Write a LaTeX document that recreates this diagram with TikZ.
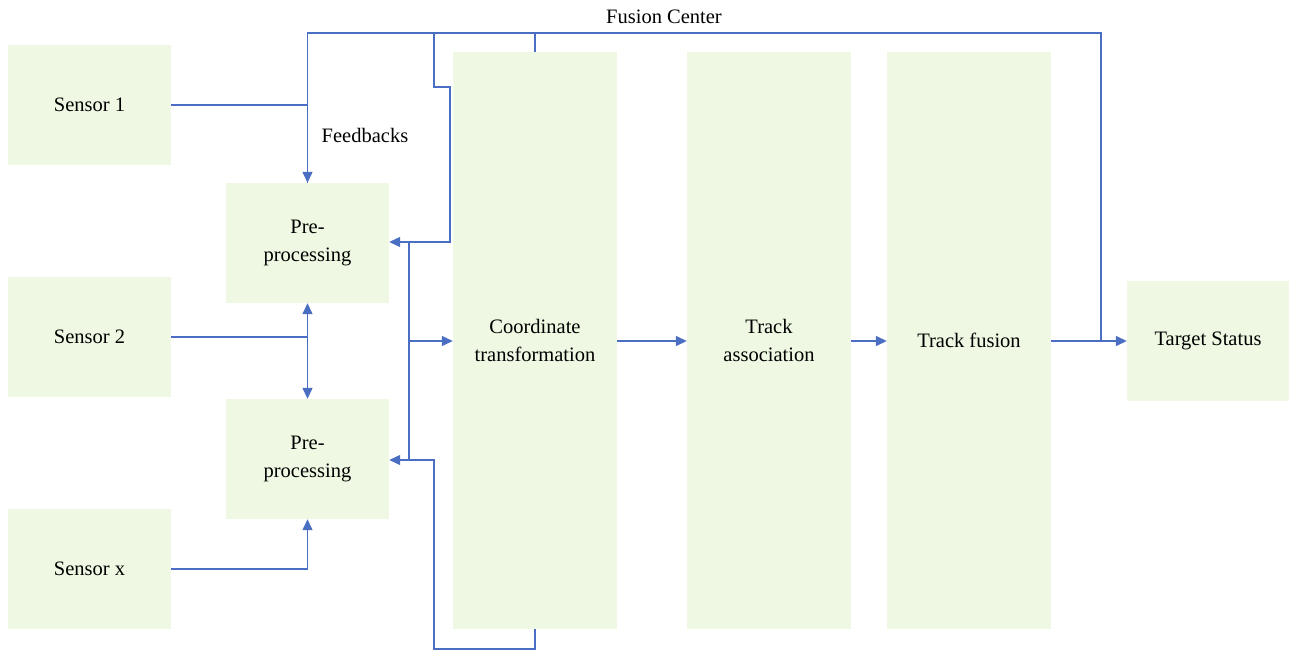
\documentclass[tikz,border=0pt]{standalone}
\usepackage{fontspec}
\setmainfont{Liberation Serif}
\usetikzlibrary{arrows.meta}
\definecolor{boxfill}{HTML}{EEF8E2}
\definecolor{linec}{HTML}{4A6FC2}
\tikzset{
  blk/.style={rectangle, fill=boxfill, draw=none, align=center, font=\fontsize{20.5}{27.5}\selectfont, inner sep=2pt},
  smallblk/.style={blk, minimum width=163pt, minimum height=120pt},
  tallblk/.style={blk, minimum width=164pt, minimum height=577pt},
  conn/.style={draw=linec, line width=1.3pt},
  arr/.style={conn, -{Triangle[length=11pt,width=10pt]}},
  lbl/.style={font=\fontsize{20.5}{27.5}\selectfont, inner sep=0pt}
}
\begin{document}
\begin{tikzpicture}[x=1pt,y=-1pt]
\useasboundingbox (0,0) rectangle (1289,652);
% blocks
\node[smallblk] (s1) at (89.5,105) {Sensor 1};
\node[smallblk] (s2) at (89.5,337) {Sensor 2};
\node[smallblk] (sx) at (89.5,569) {Sensor x};
\node[smallblk] (p1) at (307.5,243) {Pre-\\processing};
\node[smallblk] (p2) at (307.5,459) {Pre-\\processing};
\node[tallblk] (ct) at (535,340.5) {Coordinate\\transformation};
\node[tallblk] (ta) at (769,340.5) {Track\\association};
\node[tallblk] (tf) at (969,340.5) {Track fusion};
\node[blk, minimum width=162pt, minimum height=120pt] (ts) at (1208,341) {Target Status};
% labels
\node[lbl] (fc) at (664,17) {Fusion Center};
\node[lbl] (fbk) at (365,135) {Feedbacks};
% coordinates
\coordinate (fbR) at (1101,341);
\coordinate (topL) at (307.5,33);
\coordinate (topM) at (434,33);
\coordinate (j1) at (434,87);
\coordinate (j2) at (450,87);
\coordinate (j3) at (450,242);
\coordinate (b1) at (535,649);
\coordinate (b2) at (434,649);
\coordinate (b3) at (434,460);
\coordinate (busT) at (409,242);
\coordinate (busB) at (409,460);
\coordinate (busM) at (409,341);
\coordinate (s2j) at (307.5,337);
% connectors
\draw[arr] (s1.east) -| (p1.north);
\draw[conn] (fbR) |- (topL) -- (p1.north);
\draw[conn] (ct.north) -- (ct.north |- topL);
\draw[arr] (topM) -- (j1) -- (j2) -- (j3) -- (p1.east |- j3);
\draw[arr] (ct.south) -- (b1) -- (b2) -- (b3) -- (p2.east |- b3);
\draw[conn] (busT) -- (busB);
\draw[arr] (busM) -- (ct.west |- busM);
\draw[conn] (s2.east) -- (s2j);
\draw[arr, {Triangle[length=11pt,width=10pt]}-{Triangle[length=11pt,width=10pt]}] (p1.south) -- (p2.north);
\draw[arr] (sx.east) -| (p2.south);
\draw[arr] (ct.east |- busM) -- (ta.west |- busM);
\draw[arr] (ta.east |- busM) -- (tf.west |- busM);
\draw[arr] (tf.east |- busM) -- (ts.west |- busM);
\end{tikzpicture}
\end{document}
